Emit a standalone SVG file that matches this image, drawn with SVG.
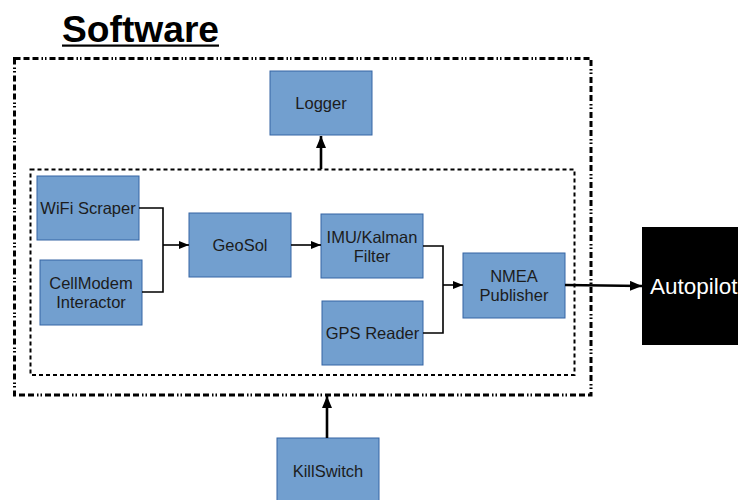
<svg xmlns="http://www.w3.org/2000/svg" width="738" height="500" viewBox="0 0 738 500">
<defs>
<marker id="ah" markerWidth="10" markerHeight="8" refX="10" refY="4" orient="auto" markerUnits="userSpaceOnUse">
<path d="M0,0 L10,4 L0,8 Z" fill="#000"/>
</marker>
<marker id="ahb" markerWidth="12" markerHeight="10" refX="12" refY="5" orient="auto" markerUnits="userSpaceOnUse">
<path d="M0,0 L12,5 L0,10 Z" fill="#000"/>
</marker>
</defs>
<style>
.box{fill:#729fcf;stroke:#3465a4;stroke-width:1}
.t{font-family:"Liberation Sans",Arial,sans-serif;font-size:16.5px;fill:#1c1c1c;text-anchor:middle}
.c{fill:none;stroke:#000;stroke-width:1.6}
.cb{fill:none;stroke:#000;stroke-width:2.6}
</style>
<rect width="738" height="500" fill="#fff"/>
<g id="title">
<text x="62" y="42" font-family="'Liberation Sans',Arial,sans-serif" font-size="37.2" font-weight="bold" fill="#000">Software</text>
<rect x="62" y="44.5" width="157" height="2.2" fill="#000"/>
</g>
<g id="outer">
<rect x="14.5" y="58.5" width="576.5" height="336.5" fill="none" stroke="#000" stroke-width="3" stroke-dasharray="6 3 6 3 6 3 1.5 2 1.5 3"/>
</g>
<g id="inner">
<rect x="30.5" y="169.5" width="544" height="205.5" fill="none" stroke="#000" stroke-width="2" stroke-dasharray="4 3"/>
</g>
<g id="logger"><rect class="box" x="270" y="71" width="102" height="64"/><text class="t" x="321" y="109">Logger</text></g>
<g id="wifi"><rect class="box" x="37" y="176" width="102" height="64"/><text class="t" x="88" y="214">WiFi Scraper</text></g>
<g id="cellmodem"><rect class="box" x="40" y="260" width="102" height="65"/><text class="t" x="91" y="289">CellModem</text><text class="t" x="91" y="308">Interactor</text></g>
<g id="geosol"><rect class="box" x="189" y="213" width="102" height="64"/><text class="t" x="240" y="251">GeoSol</text></g>
<g id="imu"><rect class="box" x="321" y="214" width="102" height="64"/><text class="t" x="372" y="243">IMU/Kalman</text><text class="t" x="372" y="262">Filter</text></g>
<g id="gps"><rect class="box" x="322" y="301" width="101" height="64"/><text class="t" x="372.5" y="339">GPS Reader</text></g>
<g id="nmea"><rect class="box" x="463" y="253" width="102" height="65"/><text class="t" x="514" y="282">NMEA</text><text class="t" x="514" y="301">Publisher</text></g>
<g id="killswitch"><rect class="box" x="277" y="438" width="102" height="70"/><text class="t" x="328" y="477">KillSwitch</text></g>
<g id="autopilot"><rect x="642" y="227" width="100" height="118" fill="#000"/><text x="650" y="294" font-family="'Liberation Sans',Arial,sans-serif" font-size="22.5" fill="#fff">Autopilot</text></g>
<g id="connectors">
<path class="c" d="M139,208 H163 V292 H142"/>
<path class="c" d="M163,245 H189" marker-end="url(#ah)"/>
<path class="c" d="M291,245 H321" marker-end="url(#ah)"/>
<path class="c" d="M423,246 H443 V333 H423"/>
<path class="c" d="M443,285 H463" marker-end="url(#ah)"/>
<path class="cb" d="M565,285 L642,286" marker-end="url(#ahb)"/>
<path class="cb" d="M321,169 V136" marker-end="url(#ahb)"/>
<path class="cb" d="M327,438 V396" marker-end="url(#ahb)"/>
</g>
</svg>
